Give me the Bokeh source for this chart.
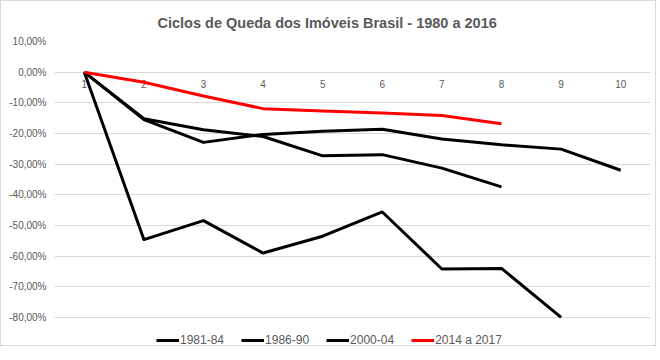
from bokeh.plotting import figure
from bokeh.models import FixedTicker, Range1d, Legend, LegendItem, ColumnDataSource
from bokeh.core.properties import value
from bokeh.embed import file_html
from bokeh.resources import INLINE

title = "Ciclos de Queda dos Imóveis Brasil - 1980 a 2016"
periods = [1, 2, 3, 4, 5, 6, 7, 8, 9, 10]
x_labels = ["1", "2", "3", "4", "5", "6", "7", "8", "9", "10"]
y_ticks = [10, 0, -10, -20, -30, -40, -50, -60, -70, -80]
y_labels = ["10,00%", "0,00%", "-10,00%", "-20,00%", "-30,00%", "-40,00%",
            "-50,00%", "-60,00%", "-70,00%", "-80,00%"]

s_1981_84 = [0, -54.6, -48.4, -59.0, -53.5, -45.6, -64.2, -64.0, -80.0]
s_1986_90 = [0, -15.5, -22.9, -20.3, -19.3, -18.6, -21.8, -23.7, -25.1, -32.0]
s_2000_04 = [0, -15.2, -18.8, -21.0, -27.3, -26.9, -31.3, -37.4]
s_2014_17 = [0, -3.3, -7.8, -11.9, -12.7, -13.3, -14.1, -16.8]

names = ["1981-84", "1986-90", "2000-04", "2014 a 2017"]
series = [s_1981_84, s_1986_90, s_2000_04, s_2014_17]
colors = ["#000000", "#000000", "#000000", "#ff0000"]

FONT = "Liberation Sans"
GREY = "#595959"

p = figure(width=656, height=346, output_backend="svg", toolbar_location=None,
           x_range=Range1d(0.5, 10.5), y_range=Range1d(-89.8, 10),
           x_axis_location=None, y_axis_location="left",
           min_border_left=53, min_border_right=7, min_border_top=40,
           min_border_bottom=0)
p.styles = {"border": "1px solid #d9d9d9"}

p.title.text = title
p.title.align = "left"
p.title.offset = 103
p.title.standoff = 22
p.title.text_font = FONT
p.title.text_font_size = "14.5px"
p.title.text_font_style = "bold"
p.title.text_color = "#595959"

p.outline_line_color = None
p.background_fill_color = "white"
p.border_fill_color = "white"

p.xgrid.grid_line_color = None
p.ygrid.ticker = FixedTicker(ticks=y_ticks)
p.ygrid.grid_line_color = "#d9d9d9"
p.ygrid.grid_line_width = 1

ya = p.yaxis[0]
ya.ticker = FixedTicker(ticks=y_ticks)
ya.major_label_overrides = {t: l for t, l in zip(y_ticks, y_labels)}
ya.axis_line_color = None
ya.major_tick_line_color = None
ya.minor_tick_line_color = None
ya.major_tick_out = 0
ya.major_tick_in = 0
ya.minor_tick_out = 0
ya.major_label_text_font = FONT
ya.major_label_text_font_size = "10px"
ya.major_label_text_color = GREY
ya.major_label_standoff = 8

lab_src = ColumnDataSource(dict(x=periods, y=[0] * len(periods), t=x_labels))
p.text(x="x", y="y", text="t", source=lab_src, text_align="center",
       text_baseline="top", y_offset=8, text_font=value(FONT),
       text_font_size="10px", text_color=GREY)

items = []
for name, vals, col in zip(names, series, colors):
    r = p.line(periods[:len(vals)], vals, line_color=col, line_width=3,
               line_join="round")
    items.append(LegendItem(label=name, renderers=[r]))

legend = Legend(items=items, orientation="horizontal", location=(102, 0),
                glyph_width=23, glyph_height=12, label_height=14,
                label_standoff=1, spacing=17,
                label_text_font=FONT, label_text_font_size="12px",
                label_text_color=GREY, border_line_color=None,
                background_fill_alpha=0, padding=0, margin=0)
p.add_layout(legend)

open("out.html", "w").write(file_html(p, INLINE))
